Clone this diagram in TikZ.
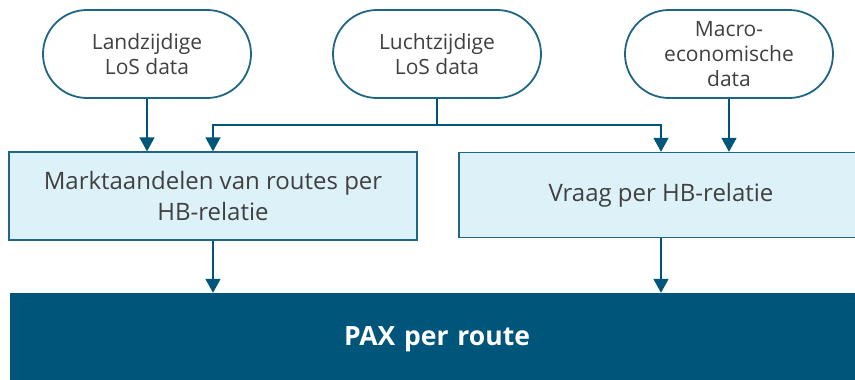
\documentclass[tikz,border=0pt]{standalone}
\usepackage{fontspec}
\setmainfont{Open Sans}
\usetikzlibrary{arrows.meta}
\definecolor{navy}{HTML}{00557A}
\definecolor{outline}{HTML}{1F6686}
\definecolor{paleblue}{HTML}{DDF1F9}
\definecolor{ink}{HTML}{404040}
\tikzset{
  source/.style={draw=outline, line width=1.8pt, fill=white, rounded corners=44pt,
    minimum width=208pt, minimum height=88pt, align=center, text=ink,
    font=\fontsize{21}{25}\selectfont, inner sep=0pt},
  stage/.style={draw=outline, line width=1.4pt, fill=paleblue, align=center, text=ink,
    font=\fontsize{24}{31}\selectfont, inner sep=0pt},
  result/.style={fill=navy, text=white, font=\fontsize{26.5}{30}\selectfont\bfseries, inner sep=0pt},
  flow/.style={draw=navy, line width=1.6pt, -{Triangle[width=15pt,length=14pt]}},
  feed/.style={draw=navy, line width=1.6pt}
}
\begin{document}
\begin{tikzpicture}[x=1pt,y=-1pt]
\useasboundingbox (0,0) rectangle (855,380);
% data sources
\node[source] (land) at (147,54) {Landzijdige\\LoS data};
\node[source] (lucht) at (437,54) {Luchtzijdige\\LoS data};
\node[source] (macro) at (729,54) {Macro-\\economische\\data};
% intermediate results
\node[stage, minimum width=408pt, minimum height=88pt] (share) at (213,196) {Marktaandelen van routes per\\HB-relatie};
\node[stage, minimum width=404pt, minimum height=85pt] (demand) at (661,195) {Vraag per HB-relatie};
% final output
\begin{scope}
\clip (0,0) rectangle (855,380);
\node[result, minimum width=850pt, minimum height=92pt, text width=846pt, align=center] (pax) at (435,339) {\hspace*{4pt}PAX per route};
\end{scope}
% connectors
\coordinate (split) at (437,125);
\draw[flow] (land.south) -- (land.south |- share.north);
\draw[feed] (lucht.south) -- (split);
\draw[flow] (split) -| (share.north);
\draw[flow] (split) -| (demand.north);
\draw[flow] (macro.south) -- (macro.south |- demand.north);
\draw[flow] (share.south) -- (share.south |- pax.north);
\draw[flow] (demand.south) -- (demand.south |- pax.north);
\end{tikzpicture}
\end{document}
